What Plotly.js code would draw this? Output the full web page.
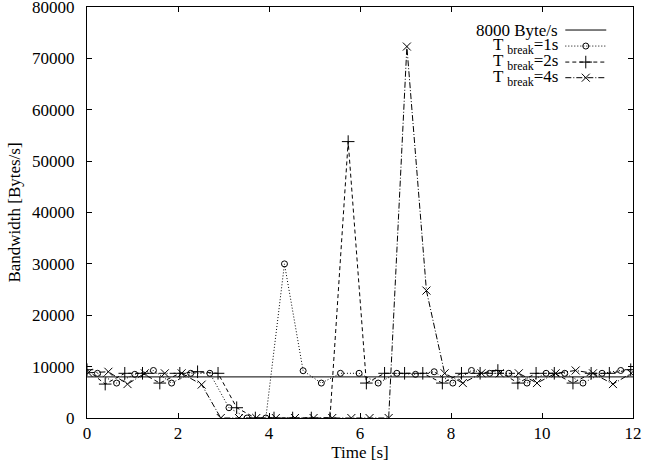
<!DOCTYPE html>
<html>
<head>
<meta charset="utf-8">
<script src="https://cdn.plot.ly/plotly-3.0.1.min.js"></script>
<style>html,body{margin:0;padding:0;background:#fff;}#chart{width:646px;height:467px;}</style>
</head>
<body>
<div id="chart"></div>
<script>
// ---- data ----
const baseTime = [0, 12];
const baseRate = [8000, 8000];

const time1s = [0.23, 0.65, 1.05, 1.46, 1.86, 2.28, 2.70, 3.12, 3.52, 3.93, 4.34, 4.75, 5.15, 5.57, 5.98, 6.40, 6.81, 7.22, 7.63, 8.04, 8.45, 8.85, 9.27, 9.67, 10.09, 10.50, 10.90, 11.32, 11.73];
const bw1s   = [8700, 6800, 8500, 9250, 6800, 8700, 8700, 2000, 0, 0, 30000, 9200, 6800, 8700, 8700, 6800, 8700, 8500, 9000, 6800, 9250, 8700, 8700, 6800, 8700, 8700, 6800, 8700, 9250];

const time2s = [0.00, 0.40, 0.83, 1.22, 1.60, 2.04, 2.43, 2.88, 3.29, 3.70, 4.11, 4.52, 4.93, 5.34, 5.74, 6.14, 6.54, 6.98, 7.38, 7.81, 8.23, 8.64, 9.03, 9.47, 9.87, 10.27, 10.68, 11.08, 11.48, 11.95];
const bw2s   = [9400, 6600, 8700, 8700, 6800, 8700, 9000, 8700, 2000, 0, 0, 0, 0, 0, 53800, 6800, 8700, 8700, 8700, 6800, 8700, 8700, 9250, 6800, 8700, 8700, 6800, 8700, 8700, 9400];

const time4s = [0.03, 0.47, 0.89, 1.27, 1.71, 2.08, 2.52, 2.94, 3.34, 3.72, 4.15, 4.57, 4.98, 5.39, 5.81, 6.21, 6.63, 7.03, 7.46, 7.86, 8.26, 8.67, 9.07, 9.49, 9.89, 10.30, 10.74, 11.12, 11.56, 11.96];
const bw4s   = [8800, 9000, 6600, 8700, 8700, 8700, 6500, 0, 0, 0, 0, 0, 0, 0, 0, 0, 0, 72300, 24800, 8700, 6800, 8700, 8700, 8700, 6800, 8700, 9250, 8700, 6600, 8700];

const xTicks = [0, 2, 4, 6, 8, 10, 12];
const yTicks = [0, 10000, 20000, 30000, 40000, 50000, 60000, 70000, 80000];
const legendNames = ['8000 Byte/s', 'T <sub>break</sub>=1s', 'T <sub>break</sub>=2s', 'T <sub>break</sub>=4s'];

// ---- styling ----
const FONT = '"Liberation Serif", "Times New Roman", serif';
const FS = 17;
const dashes = ['solid', '1px,2px', '4px,3px', '6px,2px,1px,2px'];
const symbols = [null, 'circle-open', 'cross-thin-open', 'x-thin-open'];
const sizes = [0, 6, 9, 8];
const series = [[baseTime, baseRate], [time1s, bw1s], [time2s, bw2s], [time4s, bw4s]];

const traces = series.map((s, i) => {
  const tr = {
    x: s[0], y: s[1], type: 'scatter',
    mode: i === 0 ? 'lines' : 'lines+markers',
    line: {color: '#000', width: 1, dash: dashes[i]},
    showlegend: false, hoverinfo: 'skip'
  };
  if (i > 0) tr.marker = {symbol: symbols[i], size: sizes[i], color: '#000', line: {color: '#000', width: 1}};
  return tr;
});

// gnuplot-style key: text on the left, sample on the right (overlay axes 0..1)
const rowY = [0.944, 0.905, 0.866, 0.828];
const annotations = [];
rowY.forEach((ry, i) => {
  traces.push({x: [0.876, 0.951], y: [ry, ry], xaxis: 'x2', yaxis: 'y2', type: 'scatter', mode: 'lines',
    line: {color: '#000', width: 1, dash: dashes[i]}, showlegend: false, hoverinfo: 'skip'});
  if (i > 0) traces.push({x: [0.9135], y: [ry], xaxis: 'x2', yaxis: 'y2', type: 'scatter', mode: 'markers',
    marker: {symbol: symbols[i], size: sizes[i], color: '#000', line: {color: '#000', width: 1}}, showlegend: false, hoverinfo: 'skip'});
  annotations.push({xref: 'paper', yref: 'paper', x: 0.8655, y: ry, xanchor: 'right', yanchor: 'middle',
    text: legendNames[i], showarrow: false, font: {family: FONT, size: FS, color: '#000'}});
});

const axisCommon = {
  showline: true, linecolor: '#000', linewidth: 1, mirror: 'ticks',
  ticks: 'inside', ticklen: 5, tickcolor: '#000', tickwidth: 1,
  showgrid: false, zeroline: false, ticklabeloverflow: 'allow',
  tickfont: {family: FONT, size: FS, color: '#000'}
};

const layout = {
  width: 646, height: 467,
  margin: {l: 87, r: 12.5, t: 7, b: 48.7},
  paper_bgcolor: '#fff', plot_bgcolor: '#fff',
  font: {family: FONT, size: FS, color: '#000'},
  xaxis: Object.assign({}, axisCommon, {range: [0, 12], tickvals: xTicks, ticktext: xTicks.map(String),
    title: {text: 'Time [s]', font: {family: FONT, size: FS, color: '#000'}, standoff: 2}}),
  yaxis: Object.assign({}, axisCommon, {range: [0, 80000], tickvals: yTicks, ticktext: yTicks.map(String),
    ticklabelstandoff: 8,
    title: {text: 'Bandwidth [Bytes/s]', font: {family: FONT, size: FS, color: '#000'}, standoff: 7}}),
  xaxis2: {overlaying: 'x', anchor: 'y2', range: [0, 1], visible: false, fixedrange: true},
  yaxis2: {overlaying: 'y', anchor: 'x2', range: [0, 1], visible: false, fixedrange: true},
  annotations: annotations,
  showlegend: false
};

Plotly.newPlot('chart', traces, layout, {displayModeBar: false, staticPlot: true});
</script>
</body>
</html>
